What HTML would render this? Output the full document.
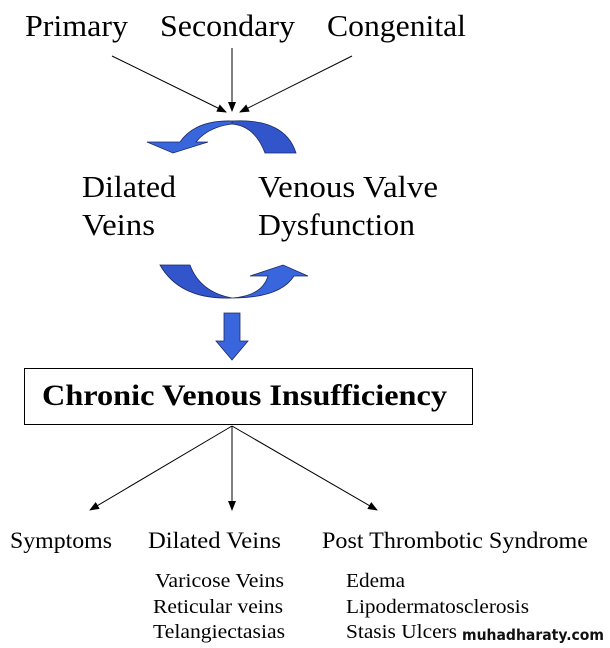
<!DOCTYPE html>
<html><head><style>
body{margin:0;background:#fff;width:610px;height:648px;overflow:hidden}
svg{display:block}
.s{font-family:"Liberation Serif",serif;fill:#000}
</style></head><body>
<svg width="610" height="648" viewBox="0 0 610 648" xmlns="http://www.w3.org/2000/svg">
<defs>
<marker id="a" markerWidth="10" markerHeight="8" refX="9" refY="4" orient="auto" markerUnits="userSpaceOnUse">
<path d="M0,0 L10,4 L0,8 Z" fill="#000"/></marker>
</defs>
<text class="s" x="25" y="36" font-size="31" textLength="103" lengthAdjust="spacingAndGlyphs">Primary</text>
<text class="s" x="160" y="36" font-size="31" textLength="135" lengthAdjust="spacingAndGlyphs">Secondary</text>
<text class="s" x="327" y="36" font-size="31" textLength="139" lengthAdjust="spacingAndGlyphs">Congenital</text>
<g stroke="#000" stroke-width="1">
<line x1="112" y1="56" x2="226" y2="112" marker-end="url(#a)"/>
<line x1="232" y1="48" x2="232" y2="111" marker-end="url(#a)"/>
<line x1="352" y1="56" x2="240" y2="112" marker-end="url(#a)"/>
</g>
<path d="M232,121 Q285,118 296,153 L265,153 Q255,126 232,124 Z" fill="#3355cc" stroke="#1a2a66" stroke-width="0.8"/>
<path d="M232,121 Q195,120 180,142 L147,142 L173,153 L208,142 L196,142 Q208,127 232,124 Z" fill="#3a66dd" stroke="#1a2a66" stroke-width="0.8"/>
<text class="s" x="82" y="197" font-size="31" textLength="94" lengthAdjust="spacingAndGlyphs">Dilated</text>
<text class="s" x="82" y="235" font-size="31" textLength="73" lengthAdjust="spacingAndGlyphs">Veins</text>
<text class="s" x="258" y="197" font-size="31" textLength="180" lengthAdjust="spacingAndGlyphs">Venous Valve</text>
<text class="s" x="258" y="235" font-size="31" textLength="157" lengthAdjust="spacingAndGlyphs">Dysfunction</text>
<path d="M160,265 L190,265 Q200,292 232,298 Q180,300 160,265 Z" fill="#3355cc" stroke="#1a2a66" stroke-width="0.8"/>
<path d="M232,298 Q262,296 268,276 L250,276 L283,265 L308,276 L294,276 Q280,298 232,298 Z" fill="#3a66dd" stroke="#1a2a66" stroke-width="0.8"/>
<path d="M224,313 L240,313 L240,341 L248,341 L232,360 L216,341 L224,341 Z" fill="#3a66dd" stroke="#1a2a66" stroke-width="0.8"/>
<rect x="24.5" y="368.5" width="448" height="56" fill="#fff" stroke="#000" stroke-width="1"/>
<text class="s" x="42" y="405" font-size="30" font-weight="bold" textLength="405" lengthAdjust="spacingAndGlyphs">Chronic Venous Insufficiency</text>
<g stroke="#000" stroke-width="1">
<line x1="232" y1="426" x2="90" y2="510" marker-end="url(#a)"/>
<line x1="232" y1="426" x2="232" y2="510" marker-end="url(#a)"/>
<line x1="232" y1="426" x2="377" y2="510" marker-end="url(#a)"/>
</g>
<text class="s" x="10" y="548" font-size="23" textLength="102" lengthAdjust="spacingAndGlyphs">Symptoms</text>
<text class="s" x="148" y="548" font-size="23" textLength="133" lengthAdjust="spacingAndGlyphs">Dilated Veins</text>
<text class="s" x="322" y="548" font-size="23" textLength="266" lengthAdjust="spacingAndGlyphs">Post Thrombotic Syndrome</text>
<text class="s" x="155" y="587" font-size="20" textLength="129" lengthAdjust="spacingAndGlyphs">Varicose Veins</text>
<text class="s" x="153" y="613" font-size="20" textLength="130" lengthAdjust="spacingAndGlyphs">Reticular veins</text>
<text class="s" x="153" y="638" font-size="20" textLength="132" lengthAdjust="spacingAndGlyphs">Telangiectasias</text>
<text class="s" x="346" y="587" font-size="20" textLength="59" lengthAdjust="spacingAndGlyphs">Edema</text>
<text class="s" x="346" y="613" font-size="20" textLength="183" lengthAdjust="spacingAndGlyphs">Lipodermatosclerosis</text>
<text class="s" x="346" y="638" font-size="20" textLength="111" lengthAdjust="spacingAndGlyphs">Stasis Ulcers</text>
<text x="462" y="640" font-family="'DejaVu Sans','Liberation Sans',sans-serif" font-weight="bold" font-size="15" fill="#111" textLength="142" lengthAdjust="spacingAndGlyphs">muhadharaty.com</text>
</svg>
</body></html>
